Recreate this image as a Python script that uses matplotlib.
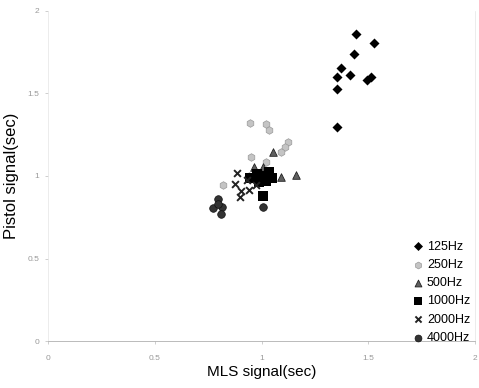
import matplotlib
matplotlib.use("Agg")
import matplotlib.pyplot as plt

plt.rcParams['font.family'] = ['Liberation Sans', 'DejaVu Sans']

# MLS vs pistol reverberation times per octave band
mls_125 = [1.441, 1.526, 1.435, 1.371, 1.352, 1.412, 1.493, 1.512, 1.352, 1.355]
pis_125 = [1.861, 1.806, 1.739, 1.655, 1.600, 1.612, 1.582, 1.600, 1.527, 1.297]

mls_250 = [0.948, 1.023, 1.033, 1.122, 1.108, 1.089, 0.953, 1.019, 0.94, 0.82]
pis_250 = [1.320, 1.315, 1.279, 1.206, 1.176, 1.145, 1.115, 1.085, 1.00, 0.945]

mls_500 = [1.052, 0.967, 1.005, 1.089, 1.160, 1.040]
pis_500 = [1.145, 1.055, 1.055, 0.994, 1.006, 1.020]

mls_1000 = [0.948, 0.977, 1.005, 1.033, 1.047, 0.986, 1.023, 1.009]
pis_1000 = [0.988, 1.012, 1.000, 1.024, 0.988, 0.964, 0.970, 0.879]

mls_2000 = [0.883, 0.878, 0.906, 0.897, 0.939, 0.972, 0.930]
pis_2000 = [1.018, 0.952, 0.909, 0.873, 0.915, 0.945, 0.976]

mls_4000 = [0.798, 0.775, 0.817, 0.808, 0.798, 1.009]
pis_4000 = [0.861, 0.806, 0.812, 0.770, 0.830, 0.812]

ticks = [0, 0.5, 1, 1.5, 2]
tick_labels = ['0', '0.5', '1', '1.5', '2']

fig = plt.figure(figsize=(4.79, 3.88), dpi=100)
ax = fig.add_axes([0.100, 0.121, 0.892, 0.851])

ax.scatter(mls_125, pis_125, marker='D', s=26, c='black', linewidths=0, label='125Hz', zorder=3)
ax.scatter(mls_250, pis_250, marker='h', s=30, c='#c4c4c4', edgecolors='#999999', linewidths=0.5,
           label='250Hz', zorder=3)
ax.scatter(mls_500, pis_500, marker='^', s=30, c='#606060', edgecolors='#222222', linewidths=0.6,
           label='500Hz', zorder=3)
ax.scatter(mls_1000, pis_1000, marker='s', s=45, c='black', linewidths=0, label='1000Hz', zorder=3)
ax.scatter(mls_2000, pis_2000, marker='x', s=24, c='#222222', linewidths=1.4, label='2000Hz', zorder=4)
ax.scatter(mls_4000, pis_4000, marker='o', s=30, c='#333333', edgecolors='#111111', linewidths=0.5,
           label='4000Hz', zorder=3)

ax.set_xlim(0, 2)
ax.set_ylim(0, 2)
ax.set_xticks(ticks)
ax.set_xticklabels(tick_labels)
ax.set_yticks(ticks)
ax.set_yticklabels(tick_labels)
ax.tick_params(colors='#bbbbbb', labelcolor='#999999', labelsize=6, length=2, width=0.5)
ax.tick_params(axis='x', pad=8)
ax.tick_params(axis='y', pad=4)

for side in ['left', 'right']:
    ax.spines[side].set_color('#e4e4e4')
    ax.spines[side].set_linewidth(0.5)
ax.spines['bottom'].set_color('#b0b0b0')
ax.spines['bottom'].set_linewidth(0.6)
ax.spines['top'].set_visible(False)

ax.set_xlabel('MLS signal(sec)', fontsize=11, labelpad=2)
ax.set_ylabel('Pistol signal(sec)', fontsize=12, labelpad=6)

leg = ax.legend(loc='lower right', bbox_to_anchor=(1.0, -0.024), frameon=False, fontsize=9,
                handletextpad=0.1, markerscale=0.9, labelspacing=0.5, borderaxespad=0.0,
                handlelength=1.2)

fig.savefig('out.png', dpi=100)
